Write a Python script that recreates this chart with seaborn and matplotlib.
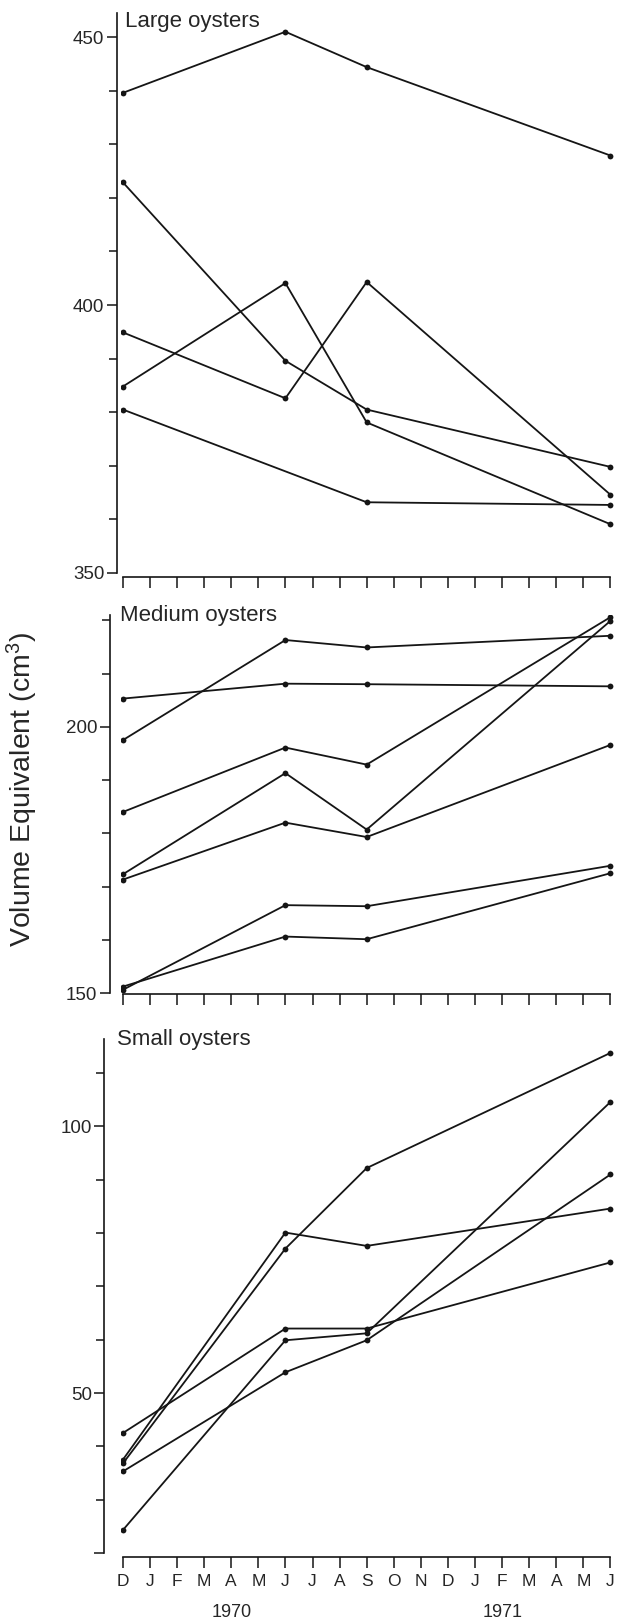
import matplotlib
matplotlib.use('Agg')
from matplotlib import pyplot as plt
from matplotlib.ticker import FixedLocator, MultipleLocator
import seaborn as sns
import pandas as pd

sns.set_style('ticks')
plt.rcParams['font.family'] = ['Liberation Sans', 'DejaVu Sans']
plt.rcParams['mathtext.default'] = 'regular'

# months from Dec 1969 to Jun 1971
month_labels = ['D', 'J', 'F', 'M', 'A', 'M', 'J', 'J', 'A', 'S',
                'O', 'N', 'D', 'J', 'F', 'M', 'A', 'M', 'J']
sample_months = [0, 6, 9, 18]          # Dec 69, Jun 70, Sep 70, Jun 71
year_labels = ['1970', '1971']
year_pos = [4, 14]

# one row per oyster, values at the sample months (None = not measured)
large = [
    [439.6, 451.0, 444.4, 427.9],
    [422.9, 389.6, 380.5, 369.8],
    [394.9, 382.6, 404.3, 364.6],
    [384.8, 404.1, 378.1, 359.1],
    [380.5, None, 363.2, 362.7],
]
medium = [
    [205.3, 208.1, 208.0, 207.6],
    [197.5, 216.3, 214.9, 217.1],
    [184.0, 196.1, 192.9, 220.6],
    [172.3, 191.3, 180.7, 219.9],
    [171.3, 182.0, 179.3, 196.6],
    [150.6, 166.5, 166.3, 173.9],
    [151.2, 160.6, 160.1, 172.5],
]
small = [
    [37.5, 80.1, 77.6, 84.6],
    [36.8, 77.1, 92.2, 113.8],
    [42.5, 62.1, 62.1, 74.5],
    [35.3, 53.9, 59.9, 91.0],
    [24.3, 59.9, 61.2, 104.6],
]


def to_frame(rows):
    recs = []
    for i, row in enumerate(rows):
        for m, v in zip(sample_months, row):
            if v is not None:
                recs.append({'oyster': i, 'month': m, 'volume': v})
    return pd.DataFrame(recs)


W, H = 617, 1622
fig = plt.figure(figsize=(W / 100, H / 100), dpi=100)
fig.patch.set_facecolor('white')

ax_left = 121 / W
ax_width = 493 / W

panels = [
    dict(title='Large oysters', rows=large, bottom=573, top=13,
         ylim=(350, 454.5), major=[350, 400, 450], majlab=['350', '400', '450'],
         left_off=3, bottom_off=3, title_off=(3, -6)),
    dict(title='Medium oysters', rows=medium, bottom=993, top=615,
         ylim=(150, 221), major=[150, 200], majlab=['150', '200'],
         left_off=8, bottom_off=1, title_off=(-1, 0)),
    dict(title='Small oysters', rows=small, bottom=1553, top=1038.5,
         ylim=(20, 116.5), major=[20, 50, 100], majlab=['', '50', '100'],
         left_off=12, bottom_off=3, title_off=(-3, -1)),
]

ink = '#151515'
for k, p in enumerate(panels):
    rect = [ax_left, 1 - p['bottom'] / H, ax_width, (p['bottom'] - p['top']) / H]
    ax = fig.add_axes(rect)
    ax.patch.set_alpha(0)
    df = to_frame(p['rows'])
    sns.lineplot(data=df, x='month', y='volume', units='oyster', estimator=None,
                 color=ink, lw=1.3, marker='o', markersize=4.2, markeredgewidth=0,
                 legend=False, ax=ax)
    ax.set_xlim(-0.07, 18.13)
    ax.set_ylim(*p['ylim'])
    ax.set_xlabel('')
    ax.set_ylabel('')

    for s in ['top', 'right']:
        ax.spines[s].set_visible(False)
    ax.spines['left'].set_position(('outward', p['left_off']))
    ax.spines['bottom'].set_position(('outward', p['bottom_off']))
    ax.spines['left'].set_bounds(*p['ylim'])
    ax.spines['bottom'].set_bounds(0, 18)
    for s in ['left', 'bottom']:
        ax.spines[s].set_linewidth(1.2)
        ax.spines[s].set_color(ink)

    ax.yaxis.set_major_locator(FixedLocator(p['major']))
    ax.set_yticklabels(p['majlab'])
    ax.yaxis.set_minor_locator(MultipleLocator(10))
    ax.tick_params(axis='y', which='major', length=7.5, width=1.1, labelsize=13.5,
                   pad=1.5, color=ink)
    ax.tick_params(axis='y', which='minor', length=6, width=1.1, color=ink)

    ax.set_xticks(range(len(month_labels)))
    ax.tick_params(axis='x', length=8, width=1.1, pad=4, labelsize=12.5, color=ink)
    if k == 2:
        ax.set_xticklabels(month_labels)
        for lab, pos in zip(year_labels, year_pos):
            ax.annotate(lab, xy=(pos, 0), xycoords=('data', 'axes fraction'),
                        xytext=(0, -46), textcoords='offset points',
                        ha='center', va='baseline', fontsize=13)
    else:
        ax.set_xticklabels([])

    ax.annotate(p['title'], xy=(0, 1), xycoords='axes fraction',
                xytext=p['title_off'], textcoords='offset points',
                ha='left', va='center', fontsize=16)

fig.text(22 / W, 1 - 790 / H, 'Volume Equivalent (cm$^3$)', rotation=90,
         ha='center', va='center', fontsize=20.5)

fig.savefig('out.png', dpi=100)
